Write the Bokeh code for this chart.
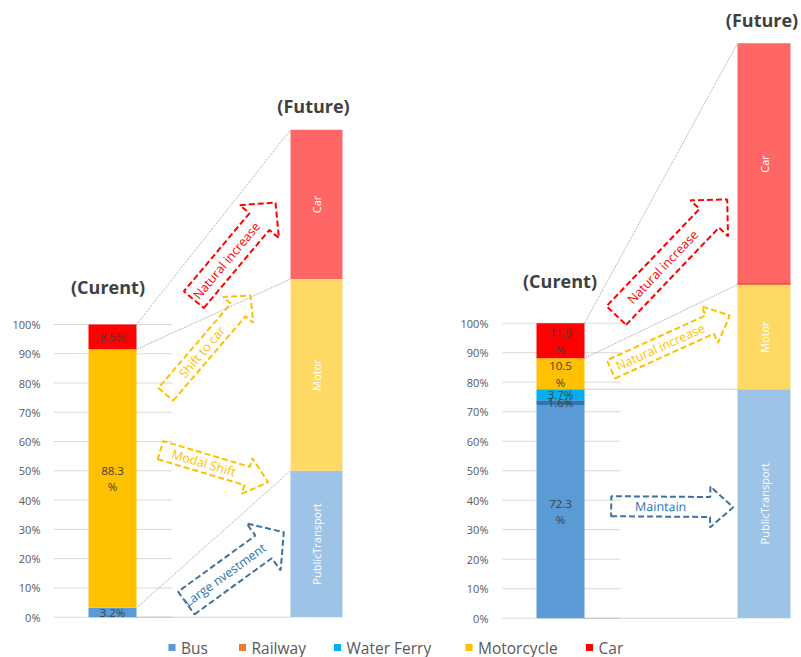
import math
from bokeh.plotting import figure
from bokeh.models import Range1d
from bokeh.core.properties import value
from bokeh.embed import file_html
from bokeh.resources import INLINE

# ---------------- data ----------------
modes = ["Bus", "Railway", "Water Ferry", "Motorcycle", "Car"]
legend_colors = ["#5B9BD5", "#ED7D31", "#00B0F0", "#FFC000", "#FF0000"]
bar_colors = ["#5B9BD5", "#2E75B6", "#00B0F0", "#FFC000", "#FF0000"]
left_current = [3.2, 0.0, 0.0, 88.3, 8.5]
right_current = [72.3, 1.6, 3.7, 10.5, 11.9]

future_groups = ["PublicTransport", "Motor", "Car"]
future_colors = ["#9DC3E6", "#FFD966", "#FF6666"]
left_future = [50.0, 65.5, 51.0]
right_future = [77.6, 35.5, 81.8]

tick_values = [0, 10, 20, 30, 40, 50, 60, 70, 80, 90, 100]
tick_labels = [f"{t}%" for t in tick_values]

FONT = value("Open Sans")

# ---------------- figure ----------------
p = figure(width=801, height=657, x_range=Range1d(0, 801),
           y_range=Range1d(-13.77, 210.69),
           output_backend="svg", toolbar_location=None,
           x_axis_location=None, y_axis_location=None, min_border=0)
p.extra_y_ranges = {"right": Range1d(-13.32, 209.39), "px": Range1d(657, 0)}
p.grid.grid_line_color = None
p.outline_line_color = None
p.background_fill_color = "white"
p.border_fill_color = "white"


def stack(vals):
    bottoms, tops = [], []
    acc = 0.0
    for v in vals:
        bottoms.append(acc)
        acc += v
        tops.append(acc)
    return bottoms, tops


def seg_label(v):
    return f"{v}%" if v < 10 else f"{v}\n%"


# gridlines + tick labels
for rng, gx0, gx1, lx in [("default", 53, 172, 40), ("right", 502, 620, 488)]:
    p.segment(x0=gx0, x1=gx1, y0=tick_values, y1=tick_values,
              line_color="#D9D9D9", line_width=1, y_range_name=rng)
    p.text(x=lx, y=tick_values, text=tick_labels, y_range_name=rng,
           text_font=FONT, text_font_size="11px", text_color="#595959",
           text_align="right", text_baseline="middle")

# current bars
for rng, xc, w, vals in [("default", 112, 48, left_current),
                         ("right", 560, 48, right_current)]:
    b, t = stack(vals)
    idx = [i for i, v in enumerate(vals) if v > 0]
    p.vbar(x=xc, width=w, bottom=[b[i] for i in idx], top=[t[i] for i in idx],
           fill_color=[bar_colors[i] for i in idx], line_color=None,
           y_range_name=rng)
    p.text(x=xc, y=[(b[i] + t[i]) / 2 for i in idx],
           text=[seg_label(vals[i]) for i in idx], y_range_name=rng,
           text_font=FONT, text_font_size="11.5px", text_color="#404040",
           text_align="center", text_baseline="middle", text_line_height=1.1)

# future bars
for rng, xc, w, vals in [("default", 316, 52, left_future),
                         ("right", 763.5, 53, right_future)]:
    b, t = stack(vals)
    p.vbar(x=xc, width=w, bottom=b, top=t, fill_color=future_colors,
           line_color=None, y_range_name=rng)
    p.text(x=xc, y=[(b[i] + t[i]) / 2 for i in range(3)], text=future_groups,
           angle=math.pi / 2, y_range_name=rng,
           text_font=FONT, text_font_size="11px", text_color="white",
           text_align="center", text_baseline="middle")

# thin boundary line on the right future bar (motor / car)
rb, rt = stack(right_future)
p.segment(x0=737, x1=790, y0=rt[1] + 0.3, y1=rt[1] + 0.3, line_color="#F4583A",
          line_width=2, y_range_name="right")

# dotted connectors
lb, lt = stack(left_current)
fb, ft = stack(left_future)
p.segment(x0=136, x1=290,
          y0=[lt[4], lb[4], lt[0], 0], y1=[ft[2], ft[1], ft[0], 0],
          line_color="#A0A0A0", line_width=1, line_dash="1 1")
cb, ct = stack(right_current)
p.segment(x0=584, x1=737,
          y0=[ct[4], cb[4], ct[2], 0], y1=[rt[2], rt[1], rt[0], 0],
          line_color="#A0A0A0", line_width=1, line_dash="1 1",
          y_range_name="right")

# titles
p.text(x=[107.5, 313, 559.5, 761.5], y=[286, 105, 280, 19],
       text=["(Curent)", "(Future)", "(Curent)", "(Future)"], y_range_name="px",
       text_font=FONT, text_font_style="bold", text_font_size="18px",
       text_color="#404040", text_align="center", text_baseline="middle")


# block arrows
def block_arrow(tail, tip, sw, hw, hl):
    tx, ty = tail
    px_, py_ = tip
    dx, dy = px_ - tx, py_ - ty
    L = math.hypot(dx, dy)
    ux, uy = dx / L, dy / L
    nx, ny = -uy, ux
    bx, by = px_ - ux * hl, py_ - uy * hl
    pts = [(tx + nx * sw / 2, ty + ny * sw / 2),
           (bx + nx * sw / 2, by + ny * sw / 2),
           (bx + nx * hw / 2, by + ny * hw / 2),
           (px_, py_),
           (bx - nx * hw / 2, by - ny * hw / 2),
           (bx - nx * sw / 2, by - ny * sw / 2),
           (tx - nx * sw / 2, ty - ny * sw / 2)]
    ang = math.atan2(-dy, dx)
    cx, cy = (tx + bx) / 2, (ty + by) / 2
    return [q[0] for q in pts], [q[1] for q in pts], ang, cx, cy


arrows = [
    ((193.3, 299.2), (275, 202), 26, 51, 25, "Natural increase", "#FF0000", "#FF0000"),
    ((165.3, 393.8), (250, 295), 19.5, 39.5, 19, "Shift to car", "#FFC000", "#FFC000"),
    ((160, 449.7), (267.7, 481.7), 19, 37, 22, "Modal Shift", "#FFC000", "#FFC000"),
    ((185.8, 602.5), (283.3, 531.7), 28, 58, 25, "Large nvestment", "#41719C", "#2E75B6"),
    ((615.8, 315), (726.7, 199), 27, 52, 26, "Natural increase", "#FF0000", "#FF0000"),
    ((610.5, 368.8), (729.3, 315), 20, 40, 22, "Natural increase", "#FFC000", "#FFC000"),
    ((610.7, 505.7), (732.7, 506.7), 20, 41, 23, "Maintain", "#41719C", "#2E75B6"),
]
for tail, tip, sw, hw, hl, label, lc, tc in arrows:
    xs, ys, ang, cx, cy = block_arrow(tail, tip, sw, hw, hl)
    p.patch(xs, ys, fill_color=None, line_color=lc, line_width=2,
            line_dash="6 3", y_range_name="px")
    p.text(x=[cx], y=[cy], text=[label], angle=ang, y_range_name="px",
           text_font=FONT, text_font_size="12.5px", text_color=tc,
           text_align="center", text_baseline="middle")

# legend
legend_sq_x = [171.5, 242, 337, 468.5, 589]
legend_y = 647
p.rect(x=legend_sq_x, y=legend_y, width=7, height=7, fill_color=legend_colors,
       line_color=None, y_range_name="px")
p.text(x=[x + 9 for x in legend_sq_x], y=legend_y, text=modes, y_range_name="px",
       text_font=FONT, text_font_size="15.5px", text_color="#595959",
       text_align="left", text_baseline="middle")

open("out.html", "w").write(file_html(p, INLINE))
